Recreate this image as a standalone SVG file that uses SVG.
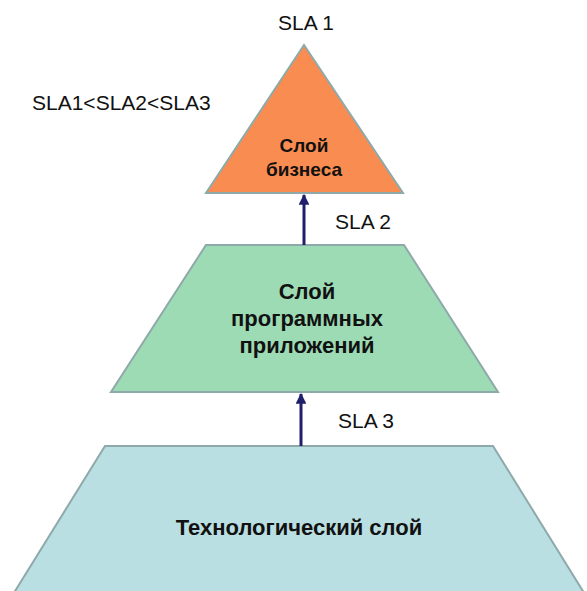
<svg xmlns="http://www.w3.org/2000/svg" width="587" height="591" viewBox="0 0 587 591">
  <style>
    .shape { stroke: #8fa9aa; stroke-width: 2; stroke-linejoin: miter; }
    .label { font-family: "Liberation Sans", Arial, sans-serif; font-size: 21px; fill: #111; }
    .title { font-family: "Liberation Sans", Arial, sans-serif; font-weight: bold; fill: #111; text-anchor: middle; }
    .conn { stroke: #1f1f6b; stroke-width: 3; fill: none; }
  </style>
  <defs>
    <marker id="arrowhead" viewBox="0 0 10 10" refX="9" refY="5" markerWidth="3.6" markerHeight="3.6" orient="auto" markerUnits="strokeWidth">
      <path d="M0,0 L10,5 L0,10 z" fill="#1f1f6b"/>
    </marker>
  </defs>
  <rect width="587" height="591" fill="#ffffff"/>

  <!-- top layer: business -->
  <g id="business">
    <polygon class="shape" points="304,45 403,193 206,193" fill="#f98c50"/>
    <text class="title" font-size="19" x="304" y="152">Слой</text>
    <text class="title" font-size="19" x="304" y="176">бизнеса</text>
  </g>

  <!-- middle layer: applications -->
  <g id="applications">
    <polygon class="shape" points="206,245 404,245 498,392 111,392" fill="#9ddbb5"/>
    <text class="title" font-size="22" x="307" y="299">Слой</text>
    <text class="title" font-size="22" x="307" y="326">программных</text>
    <text class="title" font-size="22" x="307" y="353">приложений</text>
  </g>

  <!-- bottom layer: technology -->
  <g id="technology">
    <polygon class="shape" points="105,446 493,446 586,596 12,596" fill="#b9dfe2"/>
    <text class="title" font-size="22" x="299" y="535">Технологический слой</text>
  </g>

  <!-- connectors between layers -->
  <g id="connectors">
    <line class="conn" x1="304" y1="245" x2="304" y2="195" marker-end="url(#arrowhead)"/>
    <line class="conn" x1="301" y1="446" x2="301" y2="394" marker-end="url(#arrowhead)"/>
  </g>

  <!-- SLA labels -->
  <g id="sla-labels">
    <text class="label" x="306" y="30" text-anchor="middle">SLA 1</text>
    <text class="label" x="32" y="110">SLA1&lt;SLA2&lt;SLA3</text>
    <text class="label" x="335" y="229">SLA 2</text>
    <text class="label" x="338" y="428">SLA 3</text>
  </g>
</svg>
